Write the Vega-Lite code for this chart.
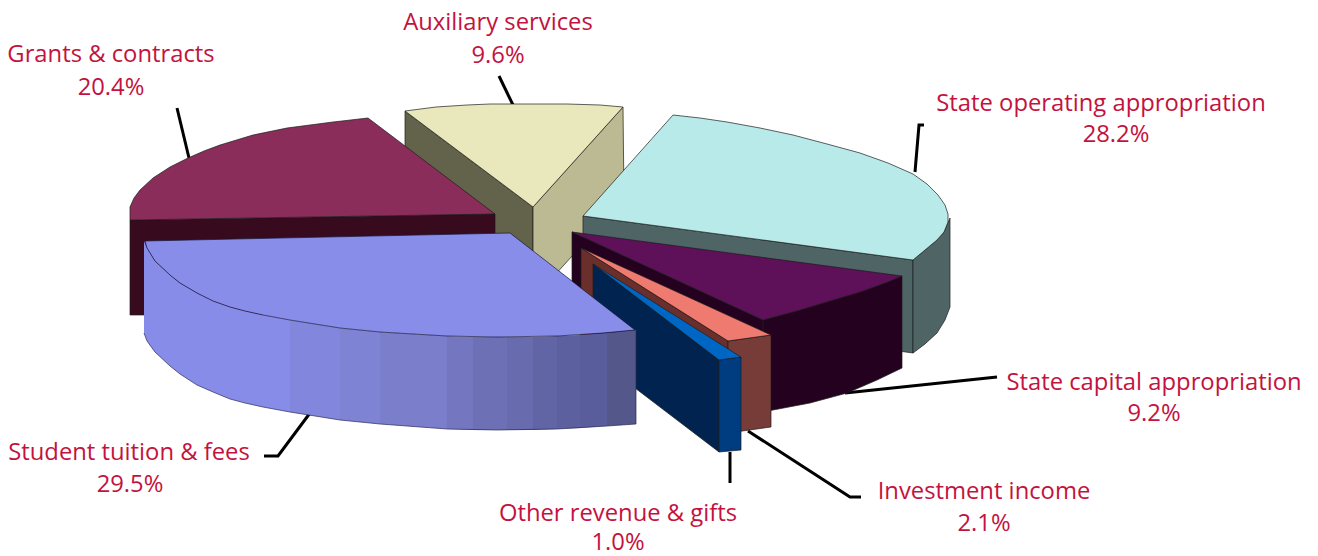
{"$schema":"https://vega.github.io/schema/vega-lite/v6.json","width":1318,"height":556,"padding":0,"autosize":"none","background":"white","view":{"stroke":null},
"datasets":{
"leaders":[
{"s":"a","i":1,"x":177,"y":108},{"s":"a","i":2,"x":189,"y":158},
{"s":"b","i":1,"x":499,"y":76},{"s":"b","i":2,"x":513,"y":105},
{"s":"c","i":1,"x":924,"y":125},{"s":"c","i":2,"x":919,"y":125},{"s":"c","i":3,"x":915,"y":172},
{"s":"d","i":1,"x":845,"y":393},{"s":"d","i":2,"x":997,"y":377},
{"s":"e","i":1,"x":264,"y":456},{"s":"e","i":2,"x":278,"y":456},{"s":"e","i":3,"x":310,"y":413},
{"s":"f","i":1,"x":748,"y":431},{"s":"f","i":2,"x":850,"y":497},{"s":"f","i":3,"x":861,"y":497},
{"s":"g","i":1,"x":730,"y":452},{"s":"g","i":2,"x":730,"y":483}],
"back":[
{"f":"auxL","i":1,"x":405,"y":111},{"f":"auxL","i":2,"x":533,"y":207},{"f":"auxL","i":3,"x":533,"y":299},{"f":"auxL","i":4,"x":405,"y":204},
{"f":"auxR","i":1,"x":533,"y":207},{"f":"auxR","i":2,"x":623,"y":107},{"f":"auxR","i":3,"x":624,"y":199},{"f":"auxR","i":4,"x":533,"y":299},
{"f":"auxT","i":1,"x":405,"y":111},{"f":"auxT","i":2,"x":436,"y":107},{"f":"auxT","i":3,"x":467,"y":105},{"f":"auxT","i":4,"x":490,"y":104},{"f":"auxT","i":5,"x":513,"y":104},{"f":"auxT","i":6,"x":540,"y":104},{"f":"auxT","i":7,"x":567,"y":104},{"f":"auxT","i":8,"x":600,"y":105},{"f":"auxT","i":9,"x":623,"y":107},{"f":"auxT","i":10,"x":533,"y":207},
{"f":"stateF","i":1,"x":583,"y":216},{"f":"stateF","i":2,"x":913,"y":260},{"f":"stateF","i":3,"x":913,"y":353},{"f":"stateF","i":4,"x":583,"y":308},
{"f":"stateR","i":1,"x":913,"y":260},{"f":"stateR","i":2,"x":925,"y":250},{"f":"stateR","i":3,"x":937,"y":240},{"f":"stateR","i":4,"x":944,"y":232},{"f":"stateR","i":5,"x":950,"y":218},{"f":"stateR","i":6,"x":950,"y":307},{"f":"stateR","i":7,"x":945,"y":320},{"f":"stateR","i":8,"x":937,"y":333},{"f":"stateR","i":9,"x":925,"y":344},{"f":"stateR","i":10,"x":913,"y":353},
{"f":"stateT","i":1,"x":583,"y":216},{"f":"stateT","i":2,"x":673,"y":115},{"f":"stateT","i":3,"x":700,"y":118},{"f":"stateT","i":4,"x":727,"y":122},{"f":"stateT","i":5,"x":760,"y":128},{"f":"stateT","i":6,"x":793,"y":135},{"f":"stateT","i":7,"x":827,"y":144},{"f":"stateT","i":8,"x":860,"y":153},{"f":"stateT","i":9,"x":888,"y":163},{"f":"stateT","i":10,"x":913,"y":174},{"f":"stateT","i":11,"x":927,"y":184},{"f":"stateT","i":12,"x":938,"y":195},{"f":"stateT","i":13,"x":945,"y":205},{"f":"stateT","i":14,"x":948,"y":214},{"f":"stateT","i":15,"x":948,"y":222},{"f":"stateT","i":16,"x":944,"y":232},{"f":"stateT","i":17,"x":937,"y":240},{"f":"stateT","i":18,"x":925,"y":250},{"f":"stateT","i":19,"x":913,"y":260},
{"f":"capL","i":1,"x":572,"y":232},{"f":"capL","i":2,"x":763,"y":320},{"f":"capL","i":3,"x":763,"y":412},{"f":"capL","i":4,"x":572,"y":324},
{"f":"capR","i":1,"x":763,"y":320},{"f":"capR","i":2,"x":800,"y":310},{"f":"capR","i":3,"x":833,"y":300},{"f":"capR","i":4,"x":860,"y":292},{"f":"capR","i":5,"x":885,"y":283},{"f":"capR","i":6,"x":902,"y":276},{"f":"capR","i":7,"x":902,"y":368},{"f":"capR","i":8,"x":877,"y":380},{"f":"capR","i":9,"x":847,"y":393},{"f":"capR","i":10,"x":810,"y":403},{"f":"capR","i":11,"x":773,"y":410},{"f":"capR","i":12,"x":763,"y":412},
{"f":"capT","i":1,"x":572,"y":232},{"f":"capT","i":2,"x":902,"y":276},{"f":"capT","i":3,"x":885,"y":283},{"f":"capT","i":4,"x":860,"y":292},{"f":"capT","i":5,"x":833,"y":300},{"f":"capT","i":6,"x":800,"y":310},{"f":"capT","i":7,"x":763,"y":320},
{"f":"invL","i":1,"x":581,"y":248},{"f":"invL","i":2,"x":728,"y":341},{"f":"invL","i":3,"x":728,"y":433},{"f":"invL","i":4,"x":581,"y":340},
{"f":"invF","i":1,"x":728,"y":341},{"f":"invF","i":2,"x":771,"y":335},{"f":"invF","i":3,"x":771,"y":427},{"f":"invF","i":4,"x":728,"y":433},
{"f":"invT","i":1,"x":581,"y":248},{"f":"invT","i":2,"x":771,"y":335},{"f":"invT","i":3,"x":728,"y":341},
{"f":"othL","i":1,"x":593,"y":264},{"f":"othL","i":2,"x":719,"y":360},{"f":"othL","i":3,"x":719,"y":452},{"f":"othL","i":4,"x":593,"y":356},
{"f":"othF","i":1,"x":719,"y":360},{"f":"othF","i":2,"x":741,"y":357},{"f":"othF","i":3,"x":741,"y":450},{"f":"othF","i":4,"x":719,"y":452},
{"f":"othT","i":1,"x":593,"y":264},{"f":"othT","i":2,"x":741,"y":357},{"f":"othT","i":3,"x":719,"y":360},
{"f":"graF","i":1,"x":130,"y":220},{"f":"graF","i":2,"x":495,"y":214},{"f":"graF","i":3,"x":495,"y":314},{"f":"graF","i":4,"x":130,"y":315},
{"f":"graT","i":1,"x":130,"y":220},{"f":"graT","i":2,"x":130,"y":207},{"f":"graT","i":3,"x":134,"y":198},{"f":"graT","i":4,"x":140,"y":190},{"f":"graT","i":5,"x":153,"y":178},{"f":"graT","i":6,"x":170,"y":167},{"f":"graT","i":7,"x":188,"y":158},{"f":"graT","i":8,"x":204,"y":151},{"f":"graT","i":9,"x":220,"y":145},{"f":"graT","i":10,"x":253,"y":135},{"f":"graT","i":11,"x":287,"y":128},{"f":"graT","i":12,"x":333,"y":122},{"f":"graT","i":13,"x":368,"y":118},{"f":"graT","i":14,"x":495,"y":214}],
"strips":[
{"f":"s1","i":1,"x":144,"y":241},{"f":"s1","i":2,"x":147,"y":248},{"f":"s1","i":3,"x":155,"y":261},{"f":"s1","i":4,"x":170,"y":275},{"f":"s1","i":5,"x":180,"y":283},{"f":"s1","i":6,"x":197,"y":293},{"f":"s1","i":7,"x":213,"y":301},{"f":"s1","i":8,"x":230,"y":307},{"f":"s1","i":9,"x":245,"y":311},{"f":"s1","i":10,"x":263,"y":315},{"f":"s1","i":11,"x":290,"y":320},{"f":"s1","i":12,"x":290,"y":412},{"f":"s1","i":13,"x":263,"y":407},{"f":"s1","i":14,"x":245,"y":403},{"f":"s1","i":15,"x":230,"y":399},{"f":"s1","i":16,"x":213,"y":392},{"f":"s1","i":17,"x":197,"y":385},{"f":"s1","i":18,"x":180,"y":374},{"f":"s1","i":19,"x":170,"y":366},{"f":"s1","i":20,"x":155,"y":352},{"f":"s1","i":21,"x":147,"y":341},{"f":"s1","i":22,"x":144,"y":333},
{"f":"s2","i":1,"x":290,"y":320},{"f":"s2","i":2,"x":315,"y":324},{"f":"s2","i":3,"x":340,"y":328},{"f":"s2","i":4,"x":340,"y":420},{"f":"s2","i":5,"x":315,"y":416},{"f":"s2","i":6,"x":290,"y":412},
{"f":"s3","i":1,"x":340,"y":328},{"f":"s3","i":2,"x":380,"y":332},{"f":"s3","i":3,"x":380,"y":424},{"f":"s3","i":4,"x":340,"y":420},
{"f":"s4","i":1,"x":380,"y":332},{"f":"s4","i":2,"x":447,"y":336},{"f":"s4","i":3,"x":447,"y":429},{"f":"s4","i":4,"x":380,"y":424},
{"f":"s5","i":1,"x":447,"y":336},{"f":"s5","i":2,"x":473,"y":337},{"f":"s5","i":3,"x":473,"y":430},{"f":"s5","i":4,"x":447,"y":429},
{"f":"s6","i":1,"x":473,"y":337},{"f":"s6","i":2,"x":507,"y":337},{"f":"s6","i":3,"x":507,"y":430},{"f":"s6","i":4,"x":473,"y":430},
{"f":"s7","i":1,"x":507,"y":337},{"f":"s7","i":2,"x":533,"y":337},{"f":"s7","i":3,"x":533,"y":430},{"f":"s7","i":4,"x":507,"y":430},
{"f":"s8","i":1,"x":533,"y":337},{"f":"s8","i":2,"x":557,"y":336},{"f":"s8","i":3,"x":557,"y":429},{"f":"s8","i":4,"x":533,"y":430},
{"f":"s9","i":1,"x":557,"y":336},{"f":"s9","i":2,"x":580,"y":335},{"f":"s9","i":3,"x":580,"y":428},{"f":"s9","i":4,"x":557,"y":429},
{"f":"s10","i":1,"x":580,"y":335},{"f":"s10","i":2,"x":607,"y":333},{"f":"s10","i":3,"x":607,"y":426},{"f":"s10","i":4,"x":580,"y":428},
{"f":"s11","i":1,"x":607,"y":333},{"f":"s11","i":2,"x":636,"y":330},{"f":"s11","i":3,"x":636,"y":424},{"f":"s11","i":4,"x":607,"y":426}],
"tuitionEdge":[
{"i":1,"x":144,"y":333},{"i":2,"x":147,"y":341},{"i":3,"x":155,"y":352},{"i":4,"x":170,"y":366},{"i":5,"x":180,"y":374},{"i":6,"x":197,"y":385},{"i":7,"x":213,"y":392},{"i":8,"x":230,"y":399},{"i":9,"x":245,"y":403},{"i":10,"x":263,"y":407},{"i":11,"x":290,"y":412},{"i":12,"x":315,"y":416},{"i":13,"x":340,"y":420},{"i":14,"x":380,"y":424},{"i":15,"x":447,"y":429},{"i":16,"x":497,"y":430},{"i":17,"x":557,"y":429},{"i":18,"x":607,"y":426},{"i":19,"x":636,"y":424},{"i":20,"x":636,"y":330}],
"tuitionTop":[
{"i":1,"x":145,"y":241},{"i":2,"x":510,"y":233},{"i":3,"x":635,"y":330},{"i":4,"x":603,"y":333},{"i":5,"x":557,"y":336},{"i":6,"x":497,"y":337},{"i":7,"x":447,"y":336},{"i":8,"x":380,"y":332},{"i":9,"x":340,"y":328},{"i":10,"x":315,"y":324},{"i":11,"x":290,"y":320},{"i":12,"x":263,"y":315},{"i":13,"x":245,"y":311},{"i":14,"x":230,"y":307},{"i":15,"x":213,"y":301},{"i":16,"x":197,"y":293},{"i":17,"x":180,"y":283},{"i":18,"x":170,"y":275},{"i":19,"x":155,"y":261},{"i":20,"x":147,"y":248}],
"labels":[
{"name":"Auxiliary services","share":0.096,"x":498,"xb":498,"ya":23,"yb":56},
{"name":"Grants & contracts","share":0.204,"x":111,"xb":111,"ya":55,"yb":88},
{"name":"State operating appropriation","share":0.282,"x":1101,"xb":1116,"ya":104,"yb":135},
{"name":"State capital appropriation","share":0.092,"x":1154,"xb":1154,"ya":383,"yb":414},
{"name":"Investment income","share":0.021,"x":984,"xb":984,"ya":492,"yb":524},
{"name":"Other revenue & gifts","share":0.01,"x":618,"xb":618,"ya":514,"yb":543},
{"name":"Student tuition & fees","share":0.295,"x":129,"xb":130,"ya":453,"yb":485}]},
"encoding":{
"x":{"field":"x","type":"quantitative","axis":null,"scale":{"domain":[0,1318],"nice":false,"zero":false}},
"y":{"field":"y","type":"quantitative","axis":null,"scale":{"domain":[0,556],"nice":false,"zero":false,"reverse":true}}},
"resolve":{"scale":{"fill":"independent"}},
"layer":[
{"data":{"name":"leaders"},"mark":{"type":"line","color":"#000000","strokeWidth":3},"encoding":{"detail":{"field":"s"},"order":{"field":"i"}}},
{"data":{"name":"back"},"mark":{"type":"line","interpolate":"linear-closed","stroke":"#1c1c1c","strokeWidth":0.7},"encoding":{"fill":{"field":"f","type":"nominal","legend":null,"scale":{"domain":["auxL","auxR","auxT","stateF","stateR","stateT","capL","capR","capT","invL","invF","invT","othL","othF","othT","graF","graT"],"range":["#62634a","#bcba93","#e8e8bc","#4f6464","#4f6464","#b8eaea","#23011f","#23011f","#5e1158","#6a2f2b","#773c38","#ee7a70","#00244f","#003c80","#0066c4","#380a1e","#8a2d5a"]}},"order":{"field":"i"}}},
{"data":{"name":"strips"},"mark":{"type":"line","interpolate":"linear-closed","strokeWidth":0},"encoding":{"fill":{"field":"f","type":"nominal","legend":null,"scale":{"domain":["s1","s2","s3","s4","s5","s6","s7","s8","s9","s10","s11"],"range":["#878ce8","#8286dc","#7f83d4","#7a7ecb","#7477bf","#6d70b4","#686bad","#6164a5","#5d609f","#5a5d9b","#545789"]}},"order":{"field":"i"}}},
{"data":{"name":"tuitionEdge"},"mark":{"type":"line","color":"#2a2a55","strokeWidth":0.7},"encoding":{"order":{"field":"i"}}},
{"data":{"name":"tuitionTop"},"mark":{"type":"line","interpolate":"linear-closed","fill":"#898dea","stroke":"#15153a","strokeWidth":0.7},"encoding":{"order":{"field":"i"}}},
{"data":{"name":"labels"},"mark":{"type":"text","font":"Open Sans","fontSize":23.8,"color":"#c4123e","align":"center","baseline":"middle"},"encoding":{"y":{"field":"ya","type":"quantitative"},"text":{"field":"name"}}},
{"data":{"name":"labels"},"mark":{"type":"text","font":"Open Sans","fontSize":23.8,"color":"#c4123e","align":"center","baseline":"middle"},"encoding":{"x":{"field":"xb","type":"quantitative"},"y":{"field":"yb","type":"quantitative"},"text":{"field":"share","format":".1%"}}}
]}
